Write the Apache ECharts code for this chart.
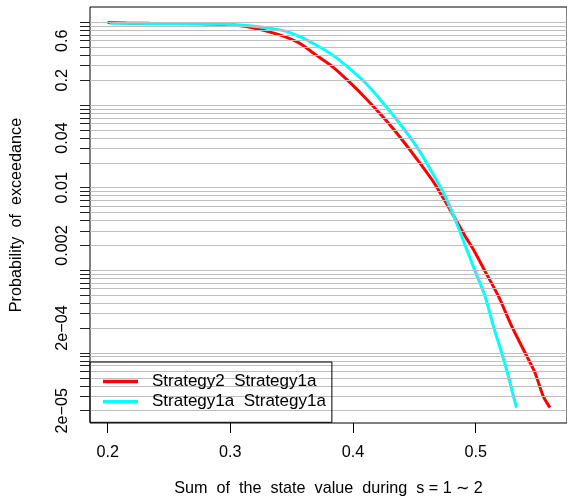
<!DOCTYPE html>
<html>
<head>
<meta charset="utf-8">
<script src="https://cdn.jsdelivr.net/npm/echarts@6/dist/echarts.min.js"></script>
<style>
  html, body { margin: 0; padding: 0; background: #fff; }
  #chart { width: 567px; height: 504px; }
</style>
</head>
<body>
<div id="chart"></div>
<script>
// Exceedance curves: sum of the state value vs. probability of exceedance
const seriesNames = ['Strategy2  Strategy1a', 'Strategy1a  Strategy1a'];

const strat2X = [0.200, 0.215, 0.234, 0.2746, 0.299, 0.3152, 0.3396, 0.3559, 0.3694, 0.3829, 0.3965, 0.4101,
                 0.4263, 0.4398, 0.4534, 0.4670, 0.4805, 0.4914, 0.4981, 0.5076, 0.5185, 0.5293, 0.5402,
                 0.5483, 0.5550, 0.5605];
const strat2P = [1.000, 0.985, 0.975, 0.960, 0.935, 0.880, 0.710, 0.564, 0.407, 0.294, 0.1934, 0.1219,
                 0.0666, 0.0382, 0.02085, 0.0109, 0.00496, 0.00258, 0.00179, 0.000976, 0.000486, 0.000211,
                 0.0001005, 0.0000576, 0.0000300, 0.0000218];

const strat1aX = [0.2015, 0.234, 0.2746, 0.299, 0.3152, 0.3423, 0.3559, 0.3694, 0.3829, 0.3965, 0.4101, 0.4223,
                  0.4398, 0.4534, 0.4670, 0.4751, 0.4833, 0.4914, 0.4995, 0.5076, 0.5144, 0.5211, 0.5266,
                  0.5307, 0.5333];
const strat1aP = [0.975, 0.972, 0.960, 0.945, 0.912, 0.800, 0.677, 0.537, 0.407, 0.281, 0.185, 0.116,
                  0.0553, 0.0289, 0.01313, 0.00787, 0.00411, 0.00200, 0.000976, 0.000486, 0.000211,
                  0.0001005, 0.0000525, 0.0000300, 0.0000218];

const xTicks = [0.2, 0.3, 0.4, 0.5];
const yLabelValues = [0.6, 0.2, 0.04, 0.01, 0.002, 0.0002, 0.00002];
const yLabelTexts = ['0.6', '0.2', '0.04', '0.01', '0.002', '2e\u221204', '2e\u221205'];

// minor log ticks: 1..9 x 10^k
const yTicks = [];
for (let k = -5; k <= 0; k++) {
  for (let m = 1; m <= 9; m++) {
    const v = +(m * Math.pow(10, k)).toPrecision(6);
    if (v >= 1.42e-5 && v <= 1.0) yTicks.push(v);
  }
}

const FONT = '"Liberation Sans", Arial, Helvetica, sans-serif';

function pairs(xs, ys) { return xs.map((x, i) => [x, ys[i]]); }

function yLabel(value) {
  let best = 0, bestD = Infinity;
  for (let i = 0; i < yLabelValues.length; i++) {
    const d = Math.abs(Math.log10(value) - Math.log10(yLabelValues[i]));
    if (d < bestD) { bestD = d; best = i; }
  }
  return yLabelTexts[best];
}

const chart = echarts.init(document.getElementById('chart'), null, { renderer: 'canvas' });
chart.setOption({
  animation: false,
  backgroundColor: '#fff',
  grid: {
    left: 90, top: 7, right: -2, bottom: 81,
    show: true, borderColor: '#000', borderWidth: 1, backgroundColor: 'transparent'
  },
  legend: {
    orient: 'vertical', left: 90, top: 362,
    icon: 'rect', itemWidth: 35, itemHeight: 3.5, itemGap: 3.3,
    padding: [11, 6, 12, 13],
    borderColor: '#000', borderWidth: 1,
    selectedMode: false,
    textStyle: { fontFamily: FONT, fontSize: 17, color: '#000', lineHeight: 17, padding: [0, 0, 0, 9] },
    data: seriesNames
  },
  xAxis: {
    type: 'value', min: 0.1856, max: 0.5744,
    name: 'Sum  of  the  state  value  during  s = 1 \u223C 2',
    nameLocation: 'middle', nameGap: 58,
    nameTextStyle: { fontFamily: FONT, fontSize: 16.2, color: '#000' },
    axisLine: { show: false },
    axisTick: { show: true, length: 10, inside: false, customValues: xTicks, lineStyle: { color: '#000', width: 1 } },
    axisLabel: { customValues: xTicks, margin: 22, fontFamily: FONT, fontSize: 16.2, color: '#000',
                 formatter: v => String(+v.toFixed(1)) },
    splitLine: { show: false }
  },
  yAxis: {
    type: 'log', logBase: 10, min: 1.42e-5, max: 1.535,
    z: 3,
    name: 'Probability  of  exceedance',
    nameLocation: 'middle', nameGap: 65, nameRotate: 90,
    nameTextStyle: { fontFamily: FONT, fontSize: 16.2, color: '#000' },
    axisLine: { show: false },
    axisTick: { show: true, length: 10, inside: false, customValues: yTicks, lineStyle: { color: '#222', width: 1 } },
    axisLabel: { customValues: yLabelValues, rotate: 90, margin: 19, fontFamily: FONT, fontSize: 16.2, color: '#000',
                 formatter: yLabel },
    splitLine: { show: true, lineStyle: { color: '#bebebe', width: 1 } },
    minorTick: { show: false }
  },
  series: [
    {
      name: seriesNames[0], type: 'line', showSymbol: false, symbol: 'none',
      smooth: 0.25,
      color: '#ff0000', lineStyle: { color: '#ff0000', width: 3 },
      data: pairs(strat2X, strat2P), z: 2
    },
    {
      name: seriesNames[1], type: 'line', showSymbol: false, symbol: 'none',
      smooth: 0.25,
      color: '#00ffff', lineStyle: { color: '#00ffff', width: 3 },
      data: pairs(strat1aX, strat1aP), z: 2
    }
  ]
});
</script>
</body>
</html>
